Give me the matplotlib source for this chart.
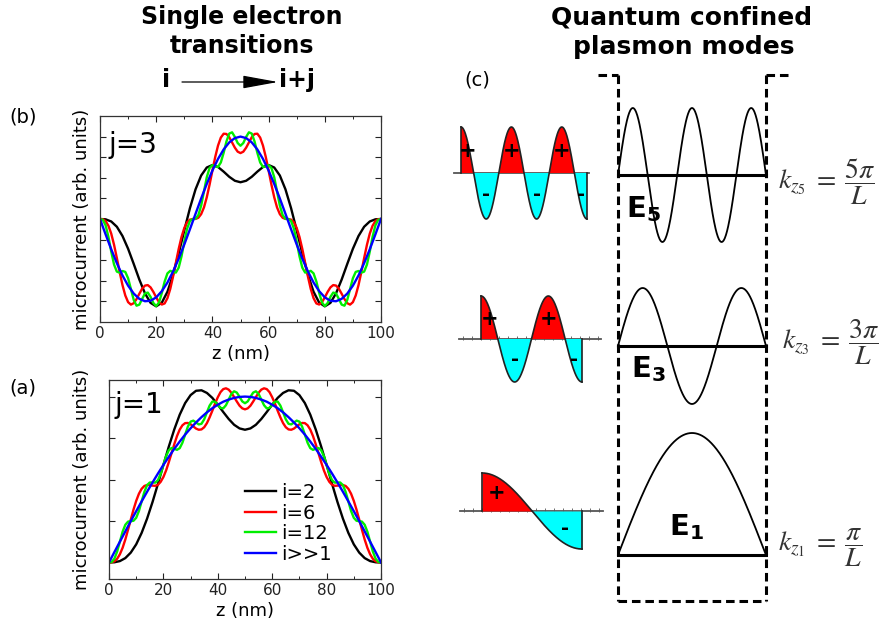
import numpy as np
import matplotlib
matplotlib.use("Agg")
import matplotlib.pyplot as plt

# microcurrent profiles (a) and (b); z in nm
z_coarse = np.arange(0, 101, 2)
z_fine = np.arange(0, 101, 1)

# panel (a): j = 1
j1_black = [
    0.000, 0.001, 0.008, 0.026, 0.059, 0.109, 0.178, 0.264, 0.364, 0.474,
    0.588, 0.699, 0.802, 0.891, 0.961, 1.009, 1.035, 1.038, 1.022, 0.992,
    0.951, 0.907, 0.865, 0.830, 0.808, 0.800, 0.808, 0.830, 0.865, 0.907,
    0.951, 0.992, 1.022, 1.038, 1.035, 1.009, 0.961, 0.891, 0.802, 0.699,
    0.588, 0.474, 0.364, 0.264, 0.178, 0.109, 0.059, 0.026, 0.008, 0.001,
    0.000]
j1_red = [
    0.000, 0.001, 0.007, 0.022, 0.049, 0.088, 0.138, 0.197, 0.258, 0.318,
    0.371, 0.414, 0.444, 0.461, 0.467, 0.466, 0.463, 0.462, 0.468, 0.486,
    0.515, 0.555, 0.605, 0.659, 0.713, 0.762, 0.801, 0.827, 0.840, 0.841,
    0.833, 0.820, 0.807, 0.800, 0.802, 0.815, 0.840, 0.875, 0.915, 0.958,
    0.996, 1.027, 1.045, 1.050, 1.042, 1.023, 0.997, 0.970, 0.945, 0.929,
    0.923, 0.929, 0.945, 0.970, 0.997, 1.023, 1.042, 1.050, 1.045, 1.027,
    0.996, 0.958, 0.915, 0.875, 0.840, 0.815, 0.802, 0.800, 0.807, 0.820,
    0.833, 0.841, 0.840, 0.827, 0.801, 0.762, 0.713, 0.659, 0.605, 0.555,
    0.515, 0.486, 0.468, 0.462, 0.463, 0.466, 0.467, 0.461, 0.444, 0.414,
    0.371, 0.318, 0.258, 0.197, 0.138, 0.088, 0.049, 0.022, 0.007, 0.001,
    0.000]
j1_green = [
    0.000, 0.003, 0.023, 0.066, 0.125, 0.185, 0.227, 0.246, 0.249, 0.251,
    0.269, 0.310, 0.368, 0.425, 0.466, 0.482, 0.482, 0.481, 0.496, 0.534,
    0.588, 0.641, 0.677, 0.690, 0.685, 0.679, 0.689, 0.722, 0.771, 0.819,
    0.849, 0.855, 0.844, 0.832, 0.836, 0.863, 0.905, 0.946, 0.970, 0.969,
    0.951, 0.932, 0.929, 0.948, 0.982, 1.016, 1.032, 1.024, 0.998, 0.971,
    0.960, 0.971, 0.998, 1.024, 1.032, 1.016, 0.982, 0.948, 0.929, 0.932,
    0.951, 0.969, 0.970, 0.946, 0.905, 0.863, 0.836, 0.832, 0.844, 0.855,
    0.849, 0.819, 0.771, 0.722, 0.689, 0.679, 0.685, 0.690, 0.677, 0.641,
    0.588, 0.534, 0.496, 0.481, 0.482, 0.482, 0.466, 0.425, 0.368, 0.310,
    0.269, 0.251, 0.249, 0.246, 0.227, 0.185, 0.125, 0.066, 0.023, 0.003,
    0.000]
j1_blue = [
    0.000, 0.063, 0.125, 0.187, 0.249, 0.309, 0.368, 0.426, 0.482, 0.536,
    0.588, 0.637, 0.685, 0.729, 0.771, 0.809, 0.844, 0.876, 0.905, 0.930,
    0.951, 0.969, 0.982, 0.992, 0.998, 1.000, 0.998, 0.992, 0.982, 0.969,
    0.951, 0.930, 0.905, 0.876, 0.844, 0.809, 0.771, 0.729, 0.685, 0.637,
    0.588, 0.536, 0.482, 0.426, 0.368, 0.309, 0.249, 0.187, 0.125, 0.063,
    0.000]

# panel (b): j = 3
j3_black = [
    0.000, -0.004, -0.030, -0.094, -0.206, -0.361, -0.545, -0.735, -0.902, -1.018,
    -1.060, -1.015, -0.883, -0.676, -0.418, -0.138, 0.131, 0.360, 0.528, 0.625,
    0.655, 0.631, 0.575, 0.512, 0.464, 0.446, 0.464, 0.512, 0.575, 0.631,
    0.655, 0.625, 0.528, 0.360, 0.131, -0.138, -0.418, -0.676, -0.883, -1.015,
    -1.060, -1.018, -0.902, -0.735, -0.545, -0.361, -0.206, -0.094, -0.030, -0.004,
    0.000]
j3_red = [
    0.000, -0.003, -0.026, -0.082, -0.178, -0.313, -0.474, -0.644, -0.802, -0.928,
    -1.009, -1.039, -1.022, -0.972, -0.907, -0.846, -0.808, -0.802, -0.830, -0.885,
    -0.951, -1.009, -1.038, -1.025, -0.961, -0.849, -0.699, -0.531, -0.364, -0.219,
    -0.109, -0.040, -0.008, 0.000, 0.001, 0.015, 0.059, 0.141, 0.264, 0.418,
    0.588, 0.752, 0.891, 0.988, 1.035, 1.032, 0.992, 0.929, 0.865, 0.817,
    0.800, 0.817, 0.865, 0.929, 0.992, 1.032, 1.035, 0.988, 0.891, 0.752,
    0.588, 0.418, 0.264, 0.141, 0.059, 0.015, 0.001, 0.000, -0.008, -0.040,
    -0.109, -0.219, -0.364, -0.531, -0.699, -0.849, -0.961, -1.025, -1.038, -1.009,
    -0.951, -0.885, -0.830, -0.802, -0.808, -0.846, -0.907, -0.972, -1.022, -1.039,
    -1.009, -0.928, -0.802, -0.644, -0.474, -0.313, -0.178, -0.082, -0.026, -0.003,
    0.000]
j3_green = [
    0.000, -0.011, -0.077, -0.217, -0.396, -0.553, -0.639, -0.651, -0.631, -0.642,
    -0.719, -0.850, -0.981, -1.052, -1.039, -0.970, -0.904, -0.893, -0.945, -1.020,
    -1.057, -1.013, -0.897, -0.759, -0.660, -0.629, -0.644, -0.650, -0.591, -0.454,
    -0.275, -0.116, -0.025, 0.000, 0.003, 0.047, 0.163, 0.335, 0.507, 0.620,
    0.653, 0.637, 0.632, 0.686, 0.803, 0.941, 1.037, 1.052, 0.996, 0.922,
    0.889, 0.922, 0.996, 1.052, 1.037, 0.941, 0.803, 0.686, 0.632, 0.637,
    0.653, 0.620, 0.507, 0.335, 0.163, 0.047, 0.003, 0.000, -0.025, -0.116,
    -0.275, -0.454, -0.591, -0.650, -0.644, -0.629, -0.660, -0.759, -0.897, -1.013,
    -1.057, -1.020, -0.945, -0.893, -0.904, -0.970, -1.039, -1.052, -0.981, -0.850,
    -0.719, -0.642, -0.631, -0.651, -0.639, -0.553, -0.396, -0.217, -0.077, -0.011,
    0.000]
j3_blue = [
    0.000, -0.187, -0.368, -0.536, -0.685, -0.809, -0.905, -0.969, -0.998, -0.992,
    -0.951, -0.876, -0.771, -0.637, -0.482, -0.309, -0.125, 0.063, 0.249, 0.426,
    0.588, 0.729, 0.844, 0.930, 0.982, 1.000, 0.982, 0.930, 0.844, 0.729,
    0.588, 0.426, 0.249, 0.063, -0.125, -0.309, -0.482, -0.637, -0.771, -0.876,
    -0.951, -0.992, -0.998, -0.969, -0.905, -0.809, -0.685, -0.536, -0.368, -0.187,
    0.000]

legend_labels = ["i=2", "i=6", "i=12", "i>>1"]
curve_colors = ["black", "red", "#00ee00", "blue"]

# panel (c): plasmon mode numbers, top to bottom
mode_numbers = [5, 3, 1]

# ---- layout (figure pixels, origin top-left) ----
W, H = 893, 629
charge_x = [(461, 587), (481, 582), (482, 582)]
charge_axis = [(454, 589), (459, 601), (460, 603)]
charge_base = [173, 339, 511]
charge_amp = [46, 43, 38]
mode_x = (618, 766)
mode_base = [175, 346, 555]
mode_amp = [67, 58, 122]
e_label_pos = [(626, 217), (631, 377), (669, 535)]
k_label_pos = [(778, 182), (782, 342), (778, 548)]


def px_axes(fig, left, top, right, bottom):
    return fig.add_axes([left / W, 1 - bottom / H, (right - left) / W, (bottom - top) / H])


def style_axes(ax, ylim, yticks):
    ax.set_xlim(0, 100)
    ax.set_ylim(*ylim)
    ax.set_xticks(range(0, 101, 20))
    ax.set_xticks(range(0, 101, 10), minor=True)
    ax.set_yticks(yticks)
    ax.set_yticklabels([])
    ax.tick_params(which="both", direction="in", top=True, right=True,
                   labelsize=11, pad=3, colors="#222222")
    ax.tick_params(which="major", length=4, width=0.8)
    ax.tick_params(which="minor", length=2.5, width=0.7)
    for s in ax.spines.values():
        s.set_linewidth(0.9)
        s.set_color("#333333")
    ax.set_xlabel("z (nm)", fontsize=13, labelpad=3)


fig = plt.figure(figsize=(W / 100, H / 100), dpi=100)
canvas = fig.add_axes([0, 0, 1, 1])
canvas.set_xlim(0, W)
canvas.set_ylim(H, 0)
canvas.axis("off")

ax_b = px_axes(fig, 100, 116, 381, 322)
ax_a = px_axes(fig, 109, 380, 381, 579)

for ax, series in ((ax_b, [(z_coarse, j3_black), (z_fine, j3_red), (z_fine, j3_green), (z_coarse, j3_blue)]),
                   (ax_a, [(z_coarse, j1_black), (z_fine, j1_red), (z_fine, j1_green), (z_coarse, j1_blue)])):
    for (zz, yy), col, lab in zip(series, curve_colors, legend_labels):
        ax.plot(zz, yy, color=col, lw=1.7, label=lab)

style_axes(ax_b, (-1.25, 1.25), np.arange(-1, 1.01, 0.25))
style_axes(ax_a, (-0.1, 1.1), np.arange(0, 1.01, 0.25))

ax_b.text(108, 153, "j=3", transform=canvas.transData, fontsize=20, va="baseline")
ax_a.text(115, 413, "j=1", transform=canvas.transData, fontsize=20, va="baseline")

ax_a.legend(loc="upper left", bbox_to_anchor=(245 / W, 1 - 483 / H), bbox_transform=fig.transFigure,
            frameon=False, fontsize=14, handlelength=1.6, handletextpad=0.25,
            labelspacing=0.08, borderpad=0, borderaxespad=0)

# y labels and panel tags
for yc in (219, 479):
    canvas.text(82, yc, "microcurrent (arb. units)", rotation=90, ha="center", va="center", fontsize=13)
canvas.text(23, 117, "(b)", fontsize=14, ha="center", va="center")
canvas.text(23, 388, "(a)", fontsize=14, ha="center", va="center")
canvas.text(477, 80, "(c)", fontsize=14, ha="center", va="center")

# headers
canvas.text(242, 17, "Single electron", fontsize=17, fontweight="bold", ha="center", va="center")
canvas.text(242, 46, "transitions", fontsize=17, fontweight="bold", ha="center", va="center")
canvas.text(166, 80, "i", fontsize=17, fontweight="bold", ha="center", va="center")
canvas.text(297, 80, "i+j", fontsize=17, fontweight="bold", ha="center", va="center")
canvas.annotate("", xy=(278, 82), xytext=(182, 82),
                arrowprops=dict(arrowstyle="-|>,head_length=1.1,head_width=0.2",
                                mutation_scale=20, lw=0.9, color="black",
                                shrinkA=0, shrinkB=0))
canvas.text(682, 18, "Quantum confined", fontsize=18, fontweight="bold", ha="center", va="center")
canvas.text(684, 47, "plasmon modes", fontsize=18, fontweight="bold", ha="center", va="center")

# dashed confinement box
box_kw = dict(color="black", lw=2.2, ls=(0, (2.8, 1.6)), solid_capstyle="butt")
canvas.plot([mode_x[0], mode_x[0]], [75, 601], **box_kw)
canvas.plot([mode_x[1], mode_x[1]], [75, 601], **box_kw)
canvas.plot([mode_x[0], mode_x[1]], [601, 601], **box_kw)
canvas.plot([598, mode_x[0]], [75, 75], **box_kw)
canvas.plot([mode_x[1], 790], [75, 75], **box_kw)

t = np.linspace(0, 1, 400)
for i, n in enumerate(mode_numbers):
    # charge density sketch
    x0, x1 = charge_x[i]
    base, amp = charge_base[i], charge_amp[i]
    xs = x0 + (x1 - x0) * t
    rho = np.cos(n * np.pi * t)
    ys = base - amp * rho
    canvas.plot(charge_axis[i], [base, base], color="#555555", lw=1.3, zorder=1)
    if n != 5:
        tx = np.arange(charge_axis[i][0] + 4, charge_axis[i][1], 9)
        canvas.plot(tx, np.full(len(tx), base - 1.5), ls="none", marker="|", ms=3,
                    mew=0.6, color="#555555")
    canvas.fill_between(xs, base, ys, where=rho >= 0, color="#ff0000", interpolate=True, lw=0, zorder=2)
    canvas.fill_between(xs, base, ys, where=rho <= 0, color="#00ffff", interpolate=True, lw=0, zorder=2)
    canvas.plot(xs, ys, color="#222222", lw=1.2, zorder=3)
    canvas.plot([x0, x0], [base, ys[0]], color="#222222", lw=1.2, zorder=3)
    canvas.plot([x1, x1], [base, ys[-1]], color="#222222", lw=1.2, zorder=3)
    edges = np.concatenate(([0], (2 * np.arange(n) + 1) / (2 * n), [1]))
    for k in range(len(edges) - 1):
        lo, hi = edges[k], edges[k + 1]
        tc = 0.5 * (lo + hi)
        if n == 1:
            tc = lo + 0.3 * (hi - lo) if k == 0 else lo + 0.65 * (hi - lo)
        sign = 1 if k % 2 == 0 else -1
        canvas.text(x0 + (x1 - x0) * tc, base - sign * 0.47 * amp, "+" if sign > 0 else "-",
                    fontsize=15 if sign > 0 else 14, fontweight="bold", ha="center", va="center", zorder=4)

    # plasmon mode
    mx = mode_x[0] + (mode_x[1] - mode_x[0]) * t
    my = mode_base[i] - mode_amp[i] * np.sin(n * np.pi * t)
    canvas.plot(mx, my, color="black", lw=1.3)
    canvas.plot(mode_x, [mode_base[i]] * 2, color="black", lw=2.2)

    ex, ey = e_label_pos[i]
    canvas.text(ex, ey, rf"$\mathbf{{E_{n}}}$", fontsize=21, ha="left", va="baseline",
                math_fontfamily="dejavusans")
    kx, ky = k_label_pos[i]
    num = r"\pi" if n == 1 else rf"{n}\pi"
    canvas.text(kx, ky, rf"$k_{{z_{{{n}}}}}\;=\;\dfrac{{{num}}}{{L}}$", fontsize=20, ha="left",
                va="center", color="#333333", math_fontfamily="stix")

fig.savefig("out.png", dpi=100)
